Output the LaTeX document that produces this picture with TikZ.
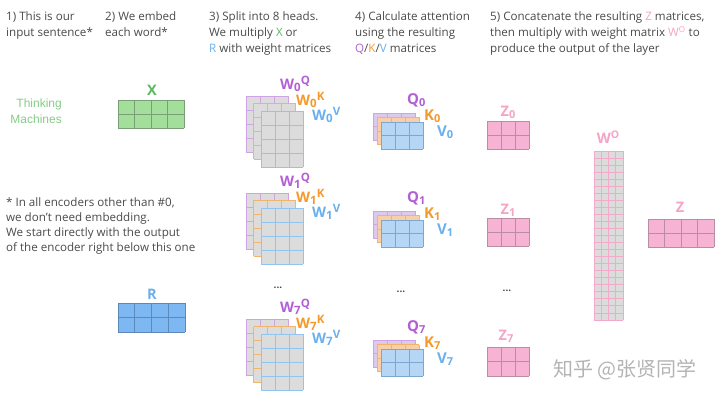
\documentclass[tikz,border=0pt]{standalone}
\usepackage{fontspec}
\setmainfont{Open Sans}
\newfontfamily\thinfont{Liberation Sans}
\newfontfamily\cjk{Noto Sans CJK SC}
\definecolor{txtgray}{HTML}{4A4A4A}
\definecolor{cgreen}{HTML}{5CB85C}
\definecolor{tgreen}{HTML}{86CC86}
\definecolor{cblue}{HTML}{6AB0EE}
\definecolor{cpurple}{HTML}{B25FD6}
\definecolor{corange}{HTML}{F39A2B}
\definecolor{cpink}{HTML}{F5A3C7}
\definecolor{xfill}{HTML}{A3DE9A}
\definecolor{xline}{HTML}{7A9F78}
\definecolor{rfill}{HTML}{7DB8F2}
\definecolor{rline}{HTML}{5E88B8}
\definecolor{wfill}{HTML}{DCDCDC}
\definecolor{pline}{HTML}{CFA3E6}
\definecolor{oline}{HTML}{F0B46A}
\definecolor{bline}{HTML}{92C4F0}
\definecolor{qfill}{HTML}{DDC8EE}
\definecolor{kfill}{HTML}{F8CFA6}
\definecolor{vfill}{HTML}{B5D6F5}
\definecolor{vline}{HTML}{7FA6CE}
\definecolor{zfill}{HTML}{F7B3D3}
\definecolor{zline}{HTML}{B98EA2}
\definecolor{woline}{HTML}{F2AACB}
\definecolor{wmark}{HTML}{B4B4B4}
\newcommand{\matgrid}[8]{%
  \fill[#7] (#1,#2) rectangle ++({#3*#5},{#4*#6});
  \foreach \ii in {0,...,#3}{\draw[#8,line width=0.8pt] ({#1+\ii*#5},{#2}) -- ++(0,{#4*#6});}
  \foreach \jj in {0,...,#4}{\draw[#8,line width=0.8pt] (#1,{#2+\jj*#6}) -- ++({#3*#5},0);}
}
\newcommand{\wstack}[1]{%
  \matgrid{246}{#1}{3}{4}{14}{14}{wfill}{pline}
  \matgrid{253.5}{#1+7.5}{3}{4}{14}{14}{wfill}{oline}
  \matgrid{261}{#1+15}{3}{4}{14}{14}{wfill}{bline}
}
\newcommand{\qstack}[1]{%
  \matgrid{373}{#1}{3}{2}{14}{13.5}{qfill}{pline}
  \matgrid{377}{#1+4.5}{3}{2}{14}{13.5}{kfill}{oline}
  \matgrid{381}{#1+9}{3}{2}{14}{13.5}{vfill}{vline}
}
\newcommand{\wl}[2]{W\raisebox{-2.5pt}{\fontsize{11.5}{11}\selectfont #1}\raisebox{5pt}{\fontsize{11.5}{11}\selectfont #2}}
\newcommand{\sub}[2]{#1\raisebox{-2pt}{\fontsize{11}{11}\selectfont #2}}
\begin{document}
\begin{tikzpicture}[x=1pt,y=-1pt,
  hdr/.style={anchor=base west,inner sep=0pt,font=\fontsize{11.6}{16}\selectfont,text=txtgray},
  lbl/.style={inner sep=0pt,font=\fontsize{14.5}{16}\selectfont\bfseries},
  wlbl/.style={lbl,anchor=west},
  qlbl/.style={wlbl,font=\fontsize{15}{16}\selectfont\bfseries},
  dots/.style={inner sep=0pt,font=\fontsize{10}{10}\selectfont\bfseries,text=txtgray}]
\useasboundingbox[fill=white] (0,0) rectangle (720,403);
% headers
\node[hdr] (h1a) at (6,21) {1) This is our};
\node[hdr] (h1b) at (6,37) {input sentence*};
\node[hdr] (h2a) at (105,21) {2) We embed};
\node[hdr] (h2b) at (105,37) {each word*};
\node[hdr] (h3a) at (209,21) {3) Split into 8 heads.};
\node[hdr] (h3b) at (209,37) {We multiply \textcolor{cgreen}{X} or};
\node[hdr] (h3c) at (209,53) {\textcolor{cblue}{R} with weight matrices};
\node[hdr] (h4a) at (355,21) {4) Calculate attention};
\node[hdr] (h4b) at (355,37) {using the resulting};
\node[hdr] (h4c) at (355,53) {\textcolor{cpurple}{Q}/\textcolor{corange}{K}/\textcolor{cblue}{V} matrices};
\node[hdr] (h5a) at (490,21) {5) Concatenate the resulting \textcolor{cpink}{Z} matrices,};
\node[hdr] (h5b) at (490,37) {then multiply with weight matrix \textcolor{cpink}{W\textsuperscript{O}} to};
\node[hdr] (h5c) at (490,53) {produce the output of the layer};
% footnote
\node[hdr] (f1) at (6,207) {* In all encoders other than \#0,};
\node[hdr] (f2) at (6,222) {we don’t need embedding.};
\node[hdr] (f3) at (6,237) {We start directly with the output};
\node[hdr] (f4) at (6,252) {of the encoder right below this one};
% input sentence
\node[inner sep=0pt,anchor=east,font=\thinfont\fontsize{12}{14}\selectfont,text=tgreen] (thk) at (62,104) {Thinking};
\node[inner sep=0pt,anchor=east,font=\thinfont\fontsize{12}{14}\selectfont,text=tgreen] (mch) at (62,119) {Machines};
% X and R
\node[lbl,text=cgreen] (xl) at (152,90) {X};
\matgrid{118}{100}{4}{2}{16.5}{14}{xfill}{xline}
\node[lbl,text=cblue] (rl) at (152,294) {R};
\matgrid{118}{303}{4}{2}{16.75}{14.5}{rfill}{rline}
% W stacks
\wstack{96}
\node[wlbl,text=cpurple] (w0q) at (280,84) {\wl{0}{Q}};
\node[wlbl,text=corange] (w0k) at (296,100) {\wl{0}{K}};
\node[wlbl,text=cblue] (w0v) at (312,115) {\wl{0}{V}};
\wstack{193}
\node[wlbl,text=cpurple] (w1q) at (280,181) {\wl{1}{Q}};
\node[wlbl,text=corange] (w1k) at (296,197) {\wl{1}{K}};
\node[wlbl,text=cblue] (w1v) at (312,212) {\wl{1}{V}};
\node[dots] (d1) at (278,288) {...};
\wstack{319}
\node[wlbl,text=cpurple] (w7q) at (280,307) {\wl{7}{Q}};
\node[wlbl,text=corange] (w7k) at (296,323) {\wl{7}{K}};
\node[wlbl,text=cblue] (w7v) at (312,338) {\wl{7}{V}};
% QKV stacks
\qstack{113}
\node[qlbl,text=cpurple] (q0) at (407,100) {\sub{Q}{0}};
\node[qlbl,text=corange] (k0) at (424,116) {\sub{K}{0}};
\node[qlbl,text=cblue] (v0) at (437,132) {\sub{V}{0}};
\qstack{211}
\node[qlbl,text=cpurple] (q1) at (407,198) {\sub{Q}{1}};
\node[qlbl,text=corange] (k1) at (424,214) {\sub{K}{1}};
\node[qlbl,text=cblue] (v1) at (437,230) {\sub{V}{1}};
\node[dots] (d2) at (401,292) {...};
\qstack{340}
\node[qlbl,text=cpurple] (q7) at (407,327) {\sub{Q}{7}};
\node[qlbl,text=corange] (k7) at (424,343) {\sub{K}{7}};
\node[qlbl,text=cblue] (v7) at (437,359) {\sub{V}{7}};
% Z matrices
\node[lbl,text=cpink] (z0) at (508,112) {\sub{Z}{0}};
\matgrid{487}{121}{3}{2}{14}{14}{zfill}{zline}
\node[lbl,text=cpink] (z1) at (508,210) {\sub{Z}{1}};
\matgrid{487}{218}{3}{2}{14}{14}{zfill}{zline}
\node[dots] (d3) at (507,291) {...};
\node[lbl,text=cpink] (z7) at (506,336) {\sub{Z}{7}};
\matgrid{487}{347}{3}{2}{14}{14.5}{zfill}{zline}
% W^O
\node[lbl,text=cpink] (wo) at (608,137) {W\raisebox{4.5pt}{\fontsize{10.5}{10}\selectfont O}};
\matgrid{594}{151}{4}{24}{7.25}{7.04}{wfill}{woline}
% Z output
\node[lbl,text=cpink] (zo) at (680,207) {Z};
\matgrid{648}{219}{4}{2}{16.5}{14}{zfill}{zline}
% watermark
\node[inner sep=0pt,font=\cjk\fontsize{20}{21}\selectfont,text=wmark] (wm) at (625,370) {知乎 @张贤同学};
\end{tikzpicture}
\end{document}
